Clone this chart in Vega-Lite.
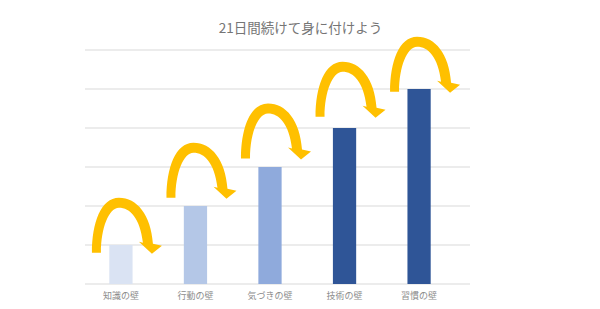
{
  "$schema": "https://vega.github.io/schema/vega-lite/v6.json",
  "width": 385,
  "height": 234,
  "autosize": {"type": "none"},
  "padding": {"left": 85, "top": 50, "right": 130, "bottom": 25},
  "background": "white",
  "title": {
    "text": "21日間続けて身に付けよう",
    "anchor": "middle",
    "frame": "group",
    "dx": 23,
    "offset": 1,
    "fontSize": 13.5,
    "fontWeight": "normal",
    "font": "Noto Sans CJK JP",
    "color": "#757575"
  },
  "config": {
    "view": {"stroke": null},
    "font": "Noto Sans CJK JP"
  },
  "data": {
    "values": [
      {"stage": "知識の壁", "value": 1, "arrow": 0.8, "tone": "a"},
      {"stage": "行動の壁", "value": 2, "arrow": 2.21, "tone": "b"},
      {"stage": "気づきの壁", "value": 3, "arrow": 3.22, "tone": "c"},
      {"stage": "技術の壁", "value": 4, "arrow": 4.29, "tone": "d"},
      {"stage": "習慣の壁", "value": 5, "arrow": 4.93, "tone": "e"}
    ]
  },
  "layer": [
    {
      "data": {"values": [{"level": 0}, {"level": 1}, {"level": 2}, {"level": 3}, {"level": 4}, {"level": 5}, {"level": 6}]},
      "mark": {"type": "rule", "color": "#d9d9d9", "strokeWidth": 1},
      "encoding": {
        "y": {"field": "level", "type": "quantitative", "scale": {"domain": [0, 6], "nice": false}, "axis": null}
      }
    },
    {
      "mark": {"type": "bar"},
      "encoding": {
        "x": {
          "field": "stage",
          "type": "nominal",
          "sort": null,
          "scale": {"range": [0, 370], "paddingInner": 0.688, "paddingOuter": 0.326},
          "axis": {
            "title": null,
            "ticks": false,
            "domain": false,
            "labelAngle": 0,
            "labelFontSize": 9,
            "labelColor": "#8c8c8c",
            "labelPadding": 7,
            "grid": false
          }
        },
        "y": {"field": "value", "type": "quantitative", "axis": null},
        "color": {
          "field": "tone",
          "type": "nominal",
          "scale": {"domain": ["a", "b", "c", "d", "e"], "range": ["#DAE3F3", "#B4C7E7", "#8FAADC", "#2F5597", "#2F5597"]},
          "legend": null
        }
      }
    },
    {
      "mark": {
        "type": "point",
        "filled": true,
        "opacity": 1,
        "size": 4,
        "color": "#FFC000",
        "strokeWidth": 0,
        "shape": "M -29 0 L -20 0 C -20 -25 -12 -45 -2 -45 C 9 -45 19 -35 22 -10 L 18 -11 L 31 1 L 41 -7 L 32 -9 C 30 -38 16 -55 -2 -55 C -20 -55 -29 -30 -29 0 Z"
      },
      "encoding": {
        "x": {"field": "stage", "type": "nominal", "sort": null},
        "y": {"field": "arrow", "type": "quantitative", "axis": null}
      }
    }
  ]
}
